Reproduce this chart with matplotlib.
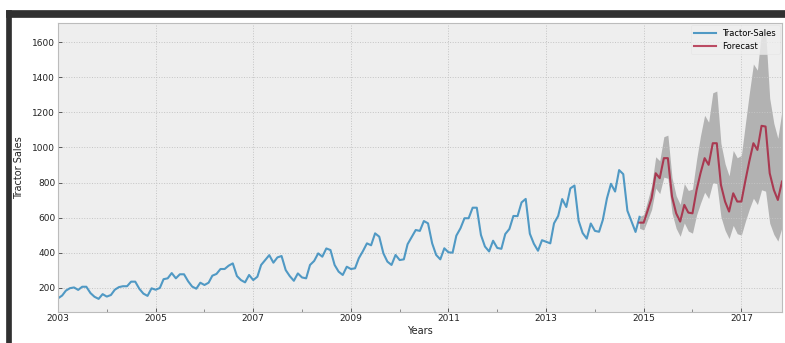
import matplotlib.pyplot as plt
import pandas as pd
from matplotlib.patches import Rectangle

plt.style.use('bmh')

# monthly tractor sales, Jan 2003 - Dec 2014
sales = [
    141, 157, 185, 199, 203, 189, 207, 207, 171, 150, 138, 165,
    151, 160, 190, 205, 210, 210, 236, 236, 195, 168, 155, 198,
    190, 200, 250, 255, 285, 255, 278, 278, 238, 208, 196, 230,
    217, 230, 270, 280, 308, 308, 327, 340, 268, 245, 232, 274,
    245, 264, 331, 359, 387, 344, 374, 382, 302, 268, 241, 283,
    260, 255, 331, 354, 397, 378, 425, 416, 331, 293, 274, 321,
    308, 312, 369, 410, 454, 443, 511, 492, 397, 350, 331, 388,
    359, 363, 449, 490, 530, 525, 581, 568, 454, 388, 363, 426,
    403, 401, 498, 540, 597, 597, 657, 657, 502, 436, 408, 469,
    428, 423, 507, 536, 610, 609, 687, 707, 509, 452, 412, 472,
    463, 454, 568, 610, 706, 661, 767, 783, 583, 513, 481, 567,
    525, 520, 587, 710, 793, 749, 871, 848, 640, 581, 519, 605,
]

# 36 step forecast starting Dec 2014, with its confidence bounds
forecast = [
    572, 572, 644, 711, 853, 825, 939, 939, 720, 625, 578, 673,
    629, 625, 758, 853, 939, 901, 1024, 1024, 787, 692, 635, 739,
    692, 692, 815, 920, 1024, 986, 1123, 1119, 853, 758, 701, 806,
]
lower_ci = [
    540, 530, 591, 646, 768, 737, 831, 824, 626, 539, 494, 570,
    524, 512, 616, 682, 745, 709, 800, 794, 605, 528, 481, 556,
    509, 501, 582, 648, 711, 675, 759, 751, 569, 505, 467, 545,
]
upper_ci = [
    606, 618, 702, 782, 947, 924, 1061, 1070, 828, 725, 676, 794,
    755, 763, 932, 1066, 1183, 1144, 1311, 1321, 1023, 907, 838, 983,
    941, 955, 1141, 1306, 1475, 1440, 1662, 1667, 1280, 1137, 1052, 1210,
]

major_years = [2003, 2005, 2007, 2009, 2011, 2013, 2015, 2017]
minor_years = [2004, 2006, 2008, 2010, 2012, 2014, 2016]

obs_dates = pd.date_range('2003-01-01', periods=len(sales), freq='MS')
fc_dates = pd.date_range('2014-12-01', periods=len(forecast), freq='MS')

fig = plt.figure(figsize=(7.85, 3.43), dpi=100)
fig.patch.set_facecolor('white')

# dark cell border along the top and left
fig.patches.append(Rectangle((6 / 785, 0), 5 / 785, 1 - 10 / 343,
                             transform=fig.transFigure, color='#303030', zorder=0))
fig.patches.append(Rectangle((6 / 785, 1 - 17 / 343), 1, 7 / 343,
                             transform=fig.transFigure, color='#303030', zorder=0))

ax = fig.add_axes([58 / 785, 1 - 311.7 / 343, 724 / 785, 289 / 343])

ax.plot(obs_dates, sales, color='#348ABD', lw=1.5, alpha=0.85, label='Tractor-Sales')
ax.plot(fc_dates, forecast, color='#A60628', lw=1.5, alpha=0.7, label='Forecast')
ax.fill_between(fc_dates, lower_ci, upper_ci, color='k', alpha=0.25, lw=0)

ax.set_xlim(obs_dates[0], fc_dates[-1])
ax.set_ylim(65, 1710)
ax.set_yticks(range(200, 1601, 200))
ax.set_xticks([pd.Timestamp(f'{y}-01-01') for y in major_years],
              labels=[str(y) for y in major_years])
ax.set_xticks([pd.Timestamp(f'{y}-01-01') for y in minor_years], minor=True)

ax.tick_params(axis='both', which='major', labelsize=6.5, length=3,
               width=0.6, color='#444444', labelcolor='#222222', pad=2)
ax.tick_params(axis='x', which='minor', length=2, width=0.5, color='#666666')
ax.grid(True, which='major', color='#c4c4c4', linestyle=':', linewidth=0.7)

ax.set_xlabel('Years', fontsize=7, labelpad=2, color='#222222')
ax.set_ylabel('Tractor Sales', fontsize=7, labelpad=6, color='#222222')

ax.legend(loc='upper right', fontsize=6, handlelength=2.6, borderaxespad=0.3,
          framealpha=0.8, edgecolor='#e4e4e4')

fig.savefig('out.png', dpi=100)
